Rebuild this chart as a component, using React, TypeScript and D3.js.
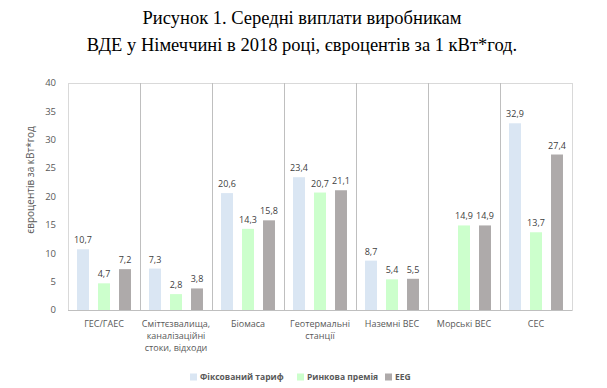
import React, { useEffect, useRef } from "react"
import * as d3 from "d3"

// ---------- Data ----------
const categories = [
    ["ГЕС/ГАЕС"],
    ["Сміттєзвалища,", "каналізаційні", "стоки, відходи"],
    ["Біомаса"],
    ["Геотермальні", "станції"],
    ["Наземні ВЕС"],
    ["Морські ВЕС"],
    ["СЕС"],
]
const seriesNames = ["Фіксований тариф", "Ринкова премія", "EEG"]
const fixedTariff: (number | null)[] = [10.7, 7.3, 20.6, 23.4, 8.7, null, 32.9]
const marketPremium: (number | null)[] = [4.7, 2.8, 14.3, 20.7, 5.4, 14.9, 13.7]
const eeg: (number | null)[] = [7.2, 3.8, 15.8, 21.1, 5.5, 14.9, 27.4]
const yTicks = [0, 5, 10, 15, 20, 25, 30, 35, 40]

const colors = ["#dae6f3", "#ccffcc", "#aeaaaa"]

const W = 607
const H = 388

const App: React.FC = () => {
    const svgRef = useRef<SVGSVGElement>(null)

    useEffect(() => {
        if (!svgRef.current) return
        const svg = d3.select(svgRef.current)
        svg.selectAll("*").remove()

        const margin = { top: 83, right: 35, bottom: 78, left: 68 }
        const innerW = W - margin.left - margin.right
        const innerH = H - margin.top - margin.bottom
        const font = "'Open Sans', 'Liberation Sans', sans-serif"
        const textColor = "#595959"

        // Title
        const title = ["Рисунок 1. Середні виплати виробникам", "ВДЕ у Німеччині в 2018 році, євроцентів за 1 кВт*год."]
        svg.append("g").selectAll("text")
            .data(title)
            .enter()
            .append("text")
            .attr("x", 302)
            .attr("y", (_, i) => 24 + i * 27)
            .attr("text-anchor", "middle")
            .attr("font-family", "'Liberation Serif', 'Times New Roman', serif")
            .attr("font-size", "18.5px")
            .attr("fill", "#000")
            .text(d => d)

        const g = svg.append("g").attr("transform", `translate(${margin.left},${margin.top})`)

        const x = d3.scaleBand<number>()
            .domain(d3.range(categories.length))
            .range([0, innerW])

        // bars inside a category: step 21, bar width 12
        const xInner = d3.scaleBand<number>()
            .domain([0, 1, 2])
            .range([x.bandwidth() / 2 - 31.5, x.bandwidth() / 2 + 31.5])
            .paddingInner(0.43)
            .paddingOuter(0.215)

        const y = d3.scaleLinear().domain([0, 40]).range([innerH, 0])

        // Plot border & separators
        g.append("rect")
            .attr("x", 0.5).attr("y", 0.5)
            .attr("width", innerW).attr("height", innerH)
            .attr("fill", "none")
            .attr("stroke", "#d9d9d9")
            .attr("stroke-width", 1)

        g.selectAll(".sep")
            .data(d3.range(1, categories.length))
            .enter()
            .append("line")
            .attr("x1", d => Math.round(x(d)!) + 0.5)
            .attr("x2", d => Math.round(x(d)!) + 0.5)
            .attr("y1", 0)
            .attr("y2", innerH)
            .attr("stroke", "#bfbfbf")

        // Bars
        const series = [fixedTariff, marketPremium, eeg]
        series.forEach((vals, si) => {
            const data = vals.map((v, i) => ({ v, i })).filter(d => d.v !== null) as { v: number; i: number }[]
            const grp = g.append("g")
            grp.selectAll("rect")
                .data(data)
                .enter()
                .append("rect")
                .attr("x", d => x(d.i)! + xInner(si)!)
                .attr("y", d => y(d.v))
                .attr("width", xInner.bandwidth())
                .attr("height", d => innerH - y(d.v))
                .attr("fill", colors[si])

            grp.selectAll("text")
                .data(data)
                .enter()
                .append("text")
                .attr("x", d => x(d.i)! + xInner(si)! + xInner.bandwidth() / 2)
                .attr("y", d => y(d.v) - 6)
                .attr("text-anchor", "middle")
                .attr("font-family", font)
                .attr("font-size", "9px")
                .attr("fill", "#404040")
                .text(d => String(d.v).replace(".", ","))
        })

        // Bottom axis line
        g.append("line")
            .attr("x1", 0).attr("x2", innerW)
            .attr("y1", innerH + 0.5).attr("y2", innerH + 0.5)
            .attr("stroke", "#bfbfbf")

        // Y ticks
        g.selectAll(".ytick")
            .data(yTicks)
            .enter()
            .append("text")
            .attr("x", -12)
            .attr("y", d => y(d))
            .attr("dy", "0.35em")
            .attr("text-anchor", "end")
            .attr("font-family", font)
            .attr("font-size", "9.5px")
            .attr("fill", textColor)
            .text(d => d)

        // Category labels
        categories.forEach((lines, i) => {
            g.append("text")
                .attr("x", x(i)! + x.bandwidth() / 2)
                .attr("y", innerH + 17)
                .attr("text-anchor", "middle")
                .attr("font-family", font)
                .attr("font-size", "9px")
                .attr("fill", textColor)
                .selectAll("tspan")
                .data(lines)
                .enter()
                .append("tspan")
                .attr("x", x(i)! + x.bandwidth() / 2)
                .attr("dy", (_, j) => (j === 0 ? 0 : 12))
                .text(d => d)
        })

        // Y axis label
        svg.append("text")
            .attr("transform", `translate(34,180) rotate(-90)`)
            .attr("text-anchor", "middle")
            .attr("font-family", font)
            .attr("font-size", "10px")
            .attr("fill", textColor)
            .text("євроцентів за кВт*год")

        // Legend
        const legendX = [190, 297, 385]
        seriesNames.forEach((name, i) => {
            const lg = svg.append("g").attr("transform", `translate(${legendX[i]},377)`)
            lg.append("rect")
                .attr("x", 0).attr("y", -3.5)
                .attr("width", 7).attr("height", 7)
                .attr("fill", colors[i])
            lg.append("text")
                .attr("x", 10)
                .attr("y", 0)
                .attr("dy", "0.35em")
                .attr("font-family", font)
                .attr("font-size", "8.5px")
                .attr("font-weight", "bold")
                .attr("fill", textColor)
                .text(name)
        })
    }, [])

    return (
        <svg ref={svgRef} width={W} height={H} style={{ display: "block", position: "absolute", left: 0, top: 0, background: "#fff" }} />
    )
}

export default App
